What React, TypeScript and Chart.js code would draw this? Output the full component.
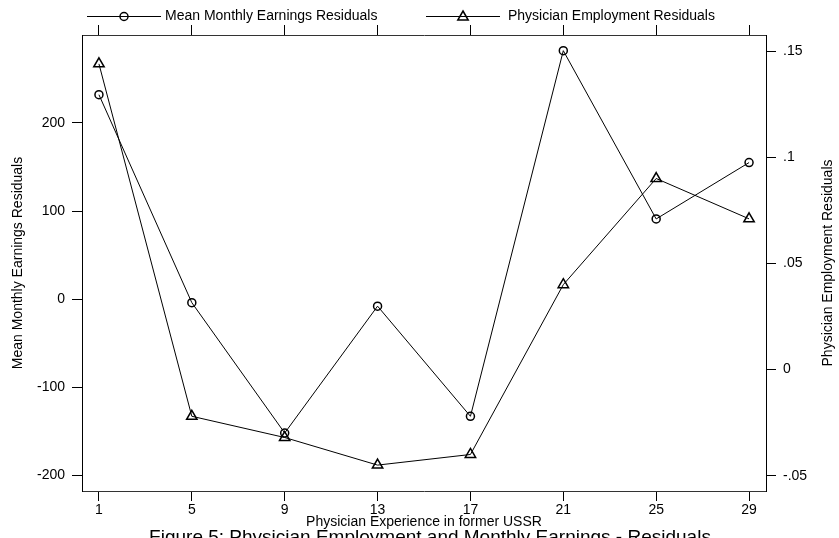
import React, { useEffect, useRef } from "react";
import { Chart, registerables } from "chart.js";

Chart.register(...registerables);

// Years of physician experience in the former USSR
const experienceYears = [1, 5, 9, 13, 17, 21, 25, 29];
// Residuals of mean monthly earnings (left axis)
const earningsResiduals = [232, -4, -152, -8, -133, 282, 91, 155];
// Residuals of physician employment (right axis)
const employmentResiduals = [0.144, -0.022, -0.032, -0.045, -0.04, 0.04, 0.09, 0.071];

const earningsTicks = [-200, -100, 0, 100, 200];
const employmentTicks = [-0.05, 0, 0.05, 0.1, 0.15];
const employmentTickLabels = ["-.05", "0", ".05", ".1", ".15"];
const xTicks = [1, 5, 9, 13, 17, 21, 25, 29];

const earningsLabel = "Mean Monthly Earnings Residuals";
const employmentLabel = "Physician Employment Residuals";
const xTitle = "Physician Experience in former USSR";
const caption = "Figure 5: Physician Employment and Monthly Earnings - Residuals";

const FONT = '"Liberation Sans", Arial, Helvetica, sans-serif';
const INK = "#000";
const FRAME = "#333";

function drawCircle(ctx: CanvasRenderingContext2D, x: number, y: number, r: number) {
  ctx.beginPath();
  ctx.arc(x, y, r, 0, Math.PI * 2);
  ctx.stroke();
}

function drawTriangle(ctx: CanvasRenderingContext2D, x: number, y: number, r: number) {
  ctx.beginPath();
  for (let i = 0; i < 3; i++) {
    const a = (i * 2 * Math.PI) / 3;
    const px = x + Math.sin(a) * r;
    const py = y - Math.cos(a) * r;
    if (i === 0) ctx.moveTo(px, py);
    else ctx.lineTo(px, py);
  }
  ctx.closePath();
  ctx.stroke();
}

// Legend, axis titles and caption drawn around the plot region
const decorations = {
  id: "decorations",
  afterDraw(chart: any) {
    const { ctx, chartArea } = chart;
    const cx = (chartArea.left + chartArea.right) / 2;
    const cy = (chartArea.top + chartArea.bottom) / 2;
    ctx.save();
    ctx.fillStyle = INK;
    ctx.strokeStyle = INK;

    // legend
    const ly = 16;
    ctx.lineWidth = 1;
    ctx.beginPath();
    ctx.moveTo(87, ly + 0.5);
    ctx.lineTo(161, ly + 0.5);
    ctx.moveTo(426, ly + 0.5);
    ctx.lineTo(500, ly + 0.5);
    ctx.stroke();
    ctx.lineWidth = 1.5;
    drawCircle(ctx, 124, ly + 0.5, 4);
    drawTriangle(ctx, 463, ly + 1, 6);
    ctx.font = `14px ${FONT}`;
    ctx.textBaseline = "middle";
    ctx.textAlign = "left";
    ctx.fillText(earningsLabel, 165, ly);
    ctx.fillText(employmentLabel, 508, ly);

    // left axis title
    ctx.save();
    ctx.translate(18, cy);
    ctx.rotate(-Math.PI / 2);
    ctx.textAlign = "center";
    ctx.fillText(earningsLabel, 0, 0);
    ctx.restore();

    // right axis title
    ctx.save();
    ctx.translate(828, cy);
    ctx.rotate(-Math.PI / 2);
    ctx.textAlign = "center";
    ctx.fillText(employmentLabel, 0, 0);
    ctx.restore();

    // x title
    ctx.textAlign = "center";
    ctx.fillText(xTitle, cx, 522);

    // caption
    ctx.font = `19px ${FONT}`;
    ctx.textBaseline = "alphabetic";
    ctx.fillText(caption, cx + 6, 543);
    ctx.restore();
  },
};

export default function App() {
  const canvasRef = useRef<HTMLCanvasElement | null>(null);

  useEffect(() => {
    document.body.style.margin = "0";
    const canvas = canvasRef.current;
    if (!canvas) return;

    const tickFont = { family: FONT, size: 14 };
    const axisGrid = {
      drawOnChartArea: false,
      drawTicks: true,
      tickLength: 10,
      color: INK,
      lineWidth: 1,
    };

    const chart = new Chart(canvas, {
      type: "line",
      data: {
        datasets: [
          {
            label: earningsLabel,
            data: experienceYears.map((x, i) => ({ x, y: earningsResiduals[i] })),
            yAxisID: "y",
            xAxisID: "x",
            borderColor: INK,
            borderWidth: 1,
            pointStyle: "circle",
            pointRadius: 4,
            pointBorderWidth: 1.5,
            pointBorderColor: INK,
            pointBackgroundColor: "rgba(0,0,0,0)",
            tension: 0,
            fill: false,
          },
          {
            label: employmentLabel,
            data: experienceYears.map((x, i) => ({ x, y: employmentResiduals[i] })),
            yAxisID: "y2",
            xAxisID: "x",
            borderColor: INK,
            borderWidth: 1,
            pointStyle: "triangle",
            pointRadius: 6,
            pointBorderWidth: 1.5,
            pointBorderColor: INK,
            pointBackgroundColor: "rgba(0,0,0,0)",
            tension: 0,
            fill: false,
          },
        ],
      },
      options: {
        responsive: false,
        animation: false,
        devicePixelRatio: 1,
        layout: { padding: 0 },
        plugins: {
          legend: { display: false },
          tooltip: { enabled: false },
          title: { display: false },
        },
        scales: {
          x: {
            type: "linear",
            position: "bottom",
            min: 0.27,
            max: 29.73,
            afterBuildTicks: (s: any) => {
              s.ticks = xTicks.map((v) => ({ value: v }));
            },
            afterFit: (s: any) => {
              s.height = 47;
            },
            grid: axisGrid,
            border: { display: true, color: FRAME, width: 1 },
            ticks: {
              font: tickFont,
              color: INK,
              padding: 1,
              maxRotation: 0,
              autoSkip: false,
            },
          },
          xTop: {
            type: "linear",
            position: "top",
            min: 0.27,
            max: 29.73,
            afterBuildTicks: (s: any) => {
              s.ticks = xTicks.map((v) => ({ value: v }));
            },
            afterFit: (s: any) => {
              s.height = 35;
            },
            grid: axisGrid,
            border: { display: true, color: FRAME, width: 1 },
            ticks: { display: false },
          },
          y: {
            type: "linear",
            position: "left",
            min: -217.8,
            max: 299.8,
            afterBuildTicks: (s: any) => {
              s.ticks = earningsTicks.map((v) => ({ value: v }));
            },
            afterFit: (s: any) => {
              s.width = 82;
            },
            grid: axisGrid,
            border: { display: true, color: INK, width: 1 },
            ticks: {
              font: tickFont,
              color: INK,
              padding: 7,
              autoSkip: false,
              callback: (v: any) => String(v),
            },
          },
          y2: {
            type: "linear",
            position: "right",
            min: -0.0572,
            max: 0.1576,
            afterBuildTicks: (s: any) => {
              s.ticks = employmentTicks.map((v) => ({ value: v }));
            },
            afterFit: (s: any) => {
              s.width = 73;
            },
            grid: axisGrid,
            border: { display: true, color: INK, width: 1 },
            ticks: {
              font: tickFont,
              color: INK,
              padding: 7,
              autoSkip: false,
              callback: (v: any) => {
                const i = employmentTicks.findIndex((t) => Math.abs(t - Number(v)) < 1e-9);
                return i >= 0 ? employmentTickLabels[i] : "";
              },
            },
          },
        },
      },
      plugins: [decorations],
    });

    return () => chart.destroy();
  }, []);

  return (
    <div style={{ width: 839, height: 538, background: "#fff" }}>
      <canvas ref={canvasRef} width={839} height={538} style={{ display: "block" }} />
    </div>
  );
}
